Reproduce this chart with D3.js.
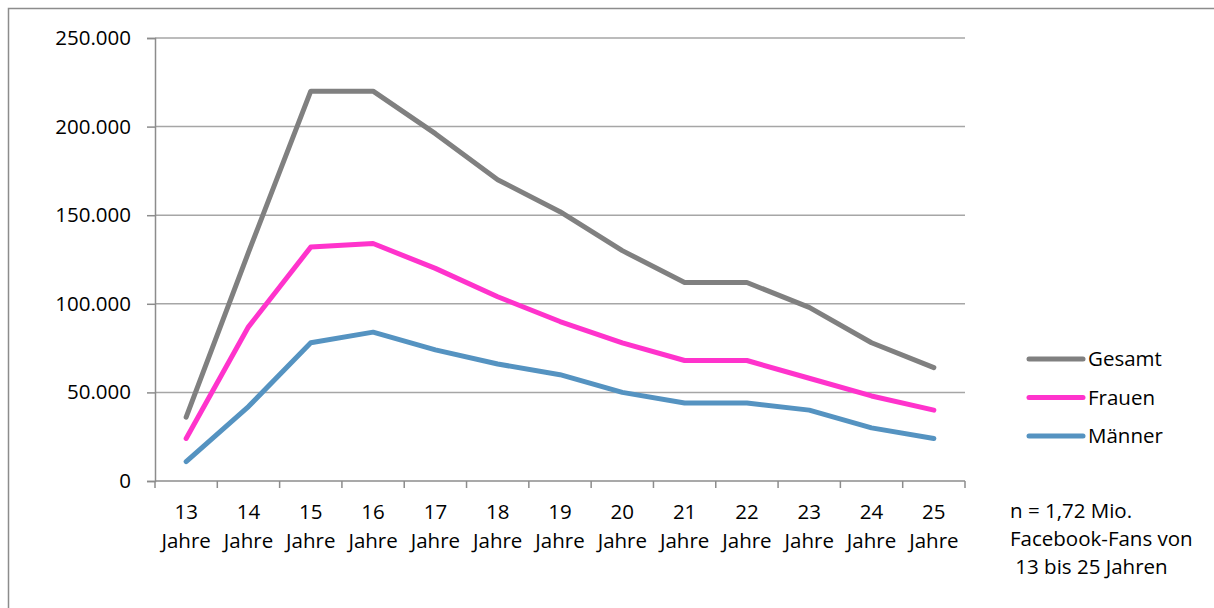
<!DOCTYPE html>
<html>
<head>
<meta charset="utf-8">
<script src="https://cdn.jsdelivr.net/npm/d3@7/dist/d3.min.js"></script>
<style>
  html, body { margin: 0; padding: 0; background: #fff; }
  svg { display: block; font-family: "Open Sans", sans-serif; }
</style>
</head>
<body>
<svg id="chart" width="1214" height="608"></svg>
<script>
// Age groups on the x axis
const ages = ["13", "14", "15", "16", "17", "18", "19", "20", "21", "22", "23", "24", "25"];
const ageUnit = "Jahre";

// Facebook fans per age
const gesamt = [36000, 129000, 220000, 220000, 196000, 170000, 152000, 130000, 112000, 112000, 98000, 78000, 64000];
const frauen = [24000, 87000, 132000, 134000, 120000, 104000, 90000, 78000, 68000, 68000, 58000, 48000, 40000];
const maenner = [11000, 42000, 78000, 84000, 74000, 66000, 60000, 50000, 44000, 44000, 40000, 30000, 24000];

const seriesNames = ["Gesamt", "Frauen", "Männer"];
const seriesColors = ["#808080", "#FF33CC", "#5593C1"];
const yTicks = [0, 50000, 100000, 150000, 200000, 250000];
const noteLines = ["n = 1,72 Mio.", "Facebook-Fans von", "\u00a013 bis 25 Jahren"];

const series = [gesamt, frauen, maenner].map((vals, i) => ({
  name: seriesNames[i], color: seriesColors[i], values: vals
}));

const svg = d3.select("#chart");
const fontSize = 20.5;

// outer frame
svg.append("rect")
  .attr("x", 8.5).attr("y", 8.5)
  .attr("width", 1212).attr("height", 612)
  .attr("fill", "none").attr("stroke", "#8c8c8c").attr("stroke-width", 1.5);

const plot = { left: 155, right: 965, top: 38, bottom: 481 };

const x = d3.scaleBand().domain(ages).range([plot.left, plot.right]).paddingInner(0).paddingOuter(0);
const y = d3.scaleLinear().domain([0, 250000]).range([plot.bottom, plot.top]);

const fmt = v => d3.format(",")(v).replace(/,/g, ".");

// horizontal gridlines
svg.append("g")
  .selectAll("line")
  .data(yTicks.filter(d => d > 0))
  .join("line")
  .attr("x1", plot.left).attr("x2", plot.right)
  .attr("y1", d => y(d)).attr("y2", d => y(d))
  .attr("stroke", "#a6a6a6").attr("stroke-width", 1.5);

// y axis
const yAxis = svg.append("g")
  .attr("transform", `translate(${plot.left},0)`)
  .call(d3.axisLeft(y).tickValues(yTicks).tickFormat(fmt).tickSize(8).tickPadding(16));
yAxis.select(".domain").attr("stroke", "#8c8c8c").attr("stroke-width", 1.5);
yAxis.selectAll(".tick line").attr("stroke", "#8c8c8c").attr("stroke-width", 1.5);
yAxis.selectAll(".tick text")
  .attr("font-size", fontSize).attr("fill", "#000")
  .attr("font-family", "Open Sans, sans-serif");

// x axis: tick marks on band boundaries
const bounds = ages.map(a => x(a)).concat([plot.right]);
svg.append("line")
  .attr("x1", plot.left).attr("x2", plot.right)
  .attr("y1", plot.bottom).attr("y2", plot.bottom)
  .attr("stroke", "#8c8c8c").attr("stroke-width", 1.5);
svg.append("g")
  .selectAll("line")
  .data(bounds)
  .join("line")
  .attr("x1", d => d).attr("x2", d => d)
  .attr("y1", plot.bottom).attr("y2", plot.bottom + 7)
  .attr("stroke", "#8c8c8c").attr("stroke-width", 1.5);

// x labels, two lines each
const xl = svg.append("g")
  .selectAll("text")
  .data(ages)
  .join("text")
  .attr("x", d => x(d) + x.bandwidth() / 2)
  .attr("text-anchor", "middle")
  .attr("font-size", fontSize)
  .attr("fill", "#000");
xl.append("tspan").attr("x", d => x(d) + x.bandwidth() / 2).attr("y", 519).text(d => d);
xl.append("tspan").attr("x", d => x(d) + x.bandwidth() / 2).attr("y", 548).text(ageUnit);

// lines
const line = d3.line()
  .x((d, i) => x(ages[i]) + x.bandwidth() / 2)
  .y(d => y(d));

svg.append("g")
  .selectAll("path")
  .data(series)
  .join("path")
  .attr("d", d => line(d.values))
  .attr("fill", "none")
  .attr("stroke", d => d.color)
  .attr("stroke-width", 5)
  .attr("stroke-linejoin", "round")
  .attr("stroke-linecap", "round");

// legend
const legend = svg.append("g")
  .selectAll("g")
  .data(series)
  .join("g")
  .attr("transform", (d, i) => `translate(1029,${359 + i * 38.5})`);
legend.append("line")
  .attr("x1", 0).attr("x2", 54).attr("y1", 0).attr("y2", 0)
  .attr("stroke", d => d.color).attr("stroke-width", 5).attr("stroke-linecap", "round");
legend.append("text")
  .attr("x", 59).attr("y", 0).attr("dy", "0.35em")
  .attr("font-size", fontSize).attr("fill", "#000")
  .text(d => d.name);

// sample note
svg.append("g")
  .selectAll("text")
  .data(noteLines)
  .join("text")
  .attr("x", 1010)
  .attr("y", (d, i) => 518 + i * 28)
  .attr("font-size", fontSize)
  .attr("fill", "#000")
  .attr("xml:space", "preserve")
  .text(d => d);
</script>
</body>
</html>
